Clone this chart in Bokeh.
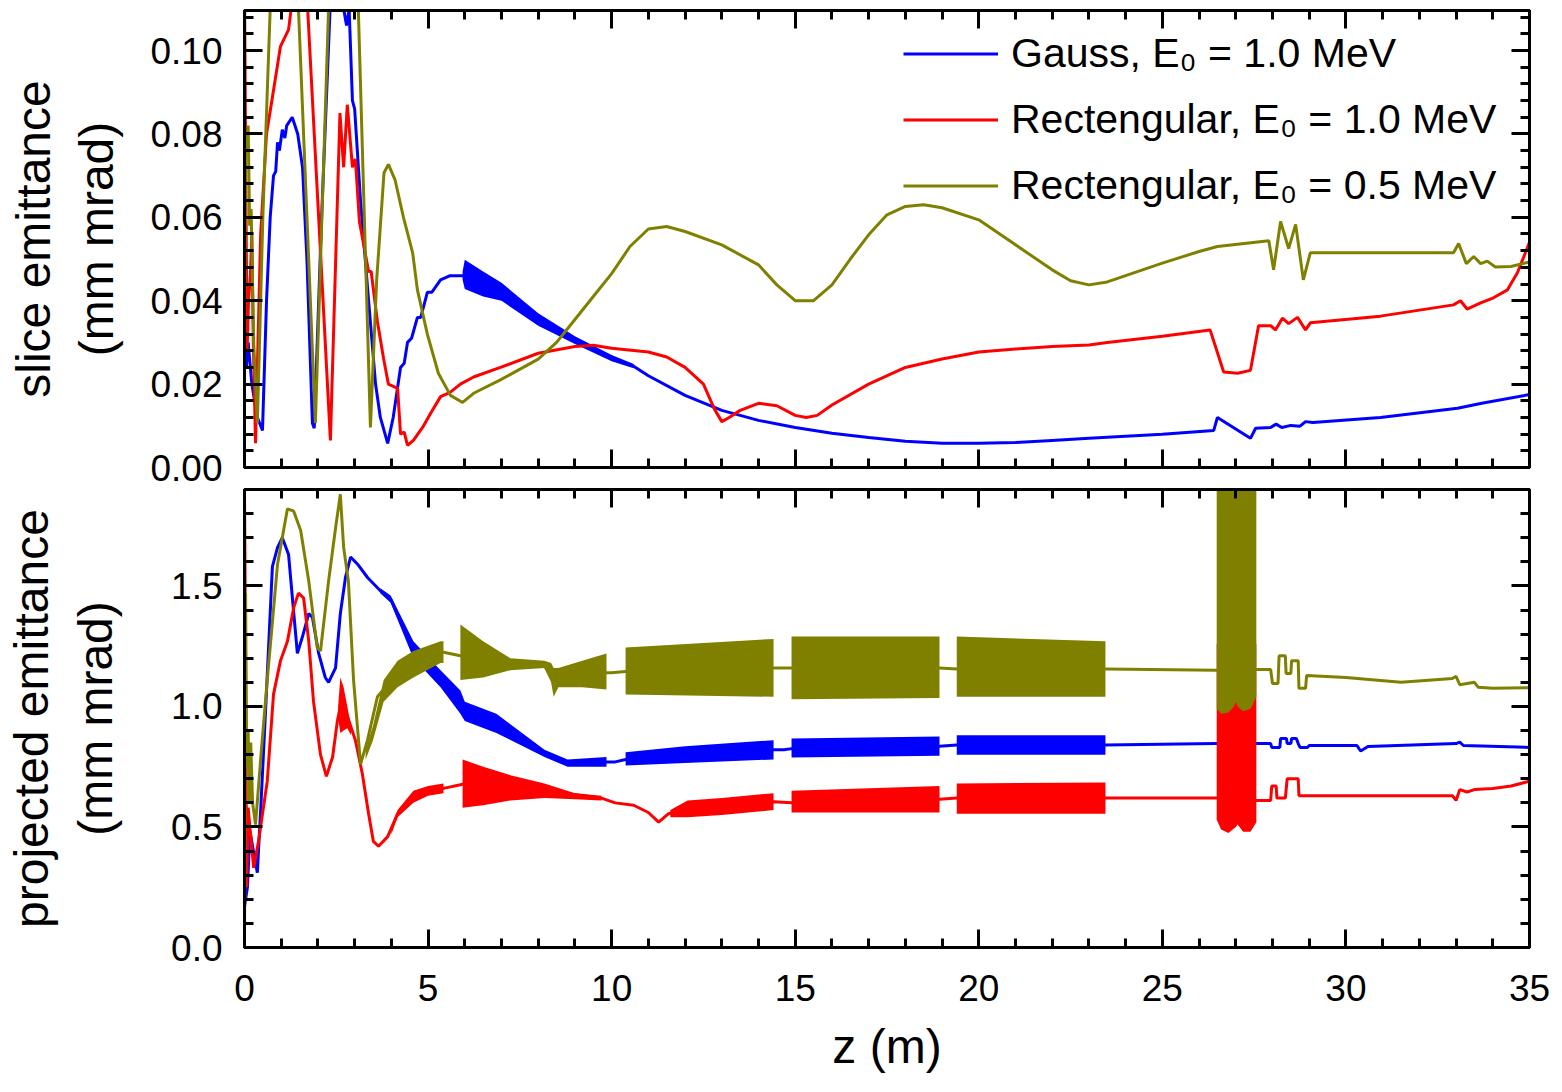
from bokeh.plotting import figure
from bokeh.models import (Range1d, LinearAxis, SingleIntervalTicker, NumeralTickFormatter,
                          Legend, LegendItem)
from bokeh.layouts import column
from bokeh.embed import file_html
from bokeh.resources import INLINE

FONT = "Liberation Sans"
BLUE, RED, OLIVE = "#0000FF", "#FF0000", "#808000"

# ---------------- data: slice emittance (z [m], eps [mm mrad]) ----------------
gauss_slice = [(0.0,0.028),(0.05,0.024),(0.1,0.030),(0.2,0.020),(0.35,0.012),(0.49,0.0089),(0.6,0.040),
    (0.7,0.060),(0.79,0.070),(0.85,0.071),(0.9,0.078),(0.95,0.076),(1.03,0.081),(1.1,0.079),(1.15,0.082),
    (1.3,0.084),(1.45,0.080),(1.58,0.072),(1.7,0.050),(1.85,0.0106),(1.9,0.0094),(2.1,0.060),(2.34,0.112),
    (2.5,0.125),(2.7,0.110),(2.78,0.106),(2.85,0.110),(2.94,0.088),(3.0,0.086),(3.16,0.064),(3.38,0.040),
    (3.57,0.020),(3.7,0.012),(3.9,0.0058),(4.05,0.012),(4.25,0.024),(4.35,0.025),(4.44,0.030),(4.55,0.031),
    (4.71,0.036),(4.8,0.036),(4.98,0.042),(5.1,0.042),(5.34,0.045),(5.6,0.046),(5.94,0.046),(6.0,0.046),
    (7.0,0.042),(8.0,0.0355),(9.0,0.0305),(10.0,0.0262),(10.6,0.0243),(11.0,0.022),(12.0,0.0173),
    (13.0,0.0137),(14.0,0.0113),(15.0,0.0096),(16.0,0.0082),(17.0,0.0072),(18.0,0.0063),(19.0,0.0058),
    (20.0,0.0058),(21.0,0.0060),(22.0,0.0065),(23.0,0.0070),(24.0,0.0075),(25.0,0.0080),(26.4,0.0089),
    (26.5,0.012),(27.4,0.0070),(27.54,0.0094),(27.95,0.0096),(28.1,0.0104),(28.25,0.0096),(28.5,0.0101),
    (28.75,0.0099),(28.9,0.0110),(29.1,0.0108),(30.94,0.0120),(33.04,0.0142),(33.7,0.0154),(35.0,0.0175)]
gauss_slice_band = [(5.94,0.045,0.047),(6.0,0.0428,0.0498),(6.5,0.041,0.047),(7.0,0.0400,0.0443),
    (8.0,0.0340,0.0370),(9.0,0.0296,0.0315),(10.0,0.0255,0.0270),(10.6,0.0238,0.0248)]

rect10_slice = [(0.0,0.115),(0.07,0.028),(0.11,0.040),(0.16,0.046),(0.2,0.056),(0.24,0.030),(0.3,0.0058),
    (0.44,0.056),(0.6,0.080),(0.8,0.091),(0.98,0.101),(1.2,0.105),(1.3,0.112),(1.5,0.125),(1.72,0.110),
    (2.34,0.0065),(2.6,0.085),(2.7,0.072),(2.8,0.087),(2.94,0.072),(3.02,0.074),(3.13,0.059),(3.38,0.047),
    (3.45,0.047),(3.62,0.035),(3.79,0.026),(3.92,0.020),(4.17,0.019),(4.25,0.008),(4.35,0.0085),
    (4.44,0.0053),(4.6,0.0065),(4.85,0.0096),(5.07,0.013),(5.34,0.017),(5.6,0.018),(5.88,0.020),
    (6.24,0.0217),(6.97,0.024),(8.0,0.0274),(9.0,0.029),(9.5,0.0293),(10.0,0.0286),(11.0,0.0277),
    (11.5,0.0265),(12.0,0.024),(12.5,0.020),(12.8,0.014),(13.0,0.011),(13.2,0.012),(13.5,0.0137),
    (14.0,0.0154),(14.5,0.0148),(15.0,0.0125),(15.3,0.012),(15.6,0.0125),(16.0,0.015),(17.0,0.020),
    (18.0,0.024),(19.0,0.026),(20.0,0.0277),(21.0,0.0284),(22.0,0.029),(23.0,0.0294),(23.5,0.030),
    (25.0,0.0315),(26.3,0.033),(26.67,0.0229),(27.05,0.0226),(27.4,0.0233),(27.62,0.034),(27.95,0.034),
    (28.08,0.033),(28.27,0.0358),(28.44,0.0345),(28.68,0.036),(28.9,0.033),(29.03,0.0347),(30.94,0.0363),
    (32.93,0.039),(33.12,0.040),(33.3,0.038),(33.67,0.0395),(34.02,0.0407),(34.4,0.0426),(34.67,0.0467),
    (35.0,0.054)]

rect05_slice = [(0.0,0.030),(0.03,0.080),(0.07,0.076),(0.1,0.082),(0.14,0.058),(0.18,0.062),(0.25,0.030),
    (0.35,0.0106),(0.5,0.060),(0.7,0.110),(1.05,0.135),(1.47,0.110),(1.93,0.0106),(2.29,0.110),(2.7,0.135),
    (3.1,0.110),(3.43,0.0096),(3.6,0.045),(3.8,0.0707),(3.92,0.0727),(4.1,0.069),(4.33,0.060),(4.58,0.0515),
    (4.71,0.0426),(4.98,0.032),(5.28,0.0226),(5.61,0.0173),(5.94,0.0156),(6.24,0.0178),(6.97,0.021),
    (8.0,0.026),(8.5,0.030),(9.0,0.0355),(9.5,0.041),(10.0,0.0465),(10.5,0.053),(11.0,0.0572),(11.5,0.0578),
    (12.0,0.0566),(13.0,0.0534),(14.0,0.0486),(14.5,0.0438),(15.0,0.040),(15.5,0.040),(16.0,0.0438),
    (16.5,0.050),(17.0,0.0558),(17.5,0.0606),(18.0,0.0626),(18.5,0.063),(19.0,0.0623),(20.0,0.0594),
    (21.0,0.0534),(22.0,0.0474),(22.5,0.0448),(23.0,0.0438),(23.5,0.0445),(24.0,0.046),(25.0,0.049),
    (26.0,0.0518),(26.5,0.053),(27.9,0.0544),(28.03,0.0474),(28.22,0.059),(28.44,0.0525),(28.63,0.0583),
    (28.84,0.045),(29.03,0.0515),(32.93,0.0515),(33.07,0.0537),(33.28,0.0489),(33.48,0.0506),(33.67,0.0489),
    (33.85,0.0495),(34.07,0.0481),(34.5,0.0482),(35.0,0.0493)]

# ---------------- data: projected emittance ----------------
gauss_proj = [(0.0,0.17),(0.08,0.25),(0.15,0.48),(0.22,0.42),(0.35,0.31),(0.45,0.60),(0.57,0.97),(0.76,1.58),
    (0.9,1.66),(1.03,1.70),(1.2,1.63),(1.34,1.39),(1.44,1.22),(1.58,1.29),(1.75,1.385),(1.85,1.37),(2.02,1.22),
    (2.2,1.12),(2.29,1.10),(2.48,1.16),(2.61,1.385),(2.75,1.535),(2.89,1.62),(3.08,1.59),(3.35,1.535),
    (3.7,1.48),(3.98,1.445),(4.6,1.235),(5.34,1.115),(5.88,1.02),(6.0,0.98),(6.86,0.93),(7.5,0.87),
    (8.17,0.805),(8.8,0.765),(9.3,0.76),(9.86,0.77),(10.1,0.77),(10.38,0.78),(12.0,0.80),(14.41,0.82),
    (14.7,0.82),(14.9,0.825),(18.93,0.835),(19.4,0.84),(23.45,0.84),(26.48,0.846),(27.95,0.846),(27.98,0.83),
    (28.2,0.83),(28.22,0.867),(28.38,0.867),(28.4,0.846),(28.5,0.846),(28.52,0.867),(28.65,0.867),(28.7,0.846),
    (28.75,0.83),(28.95,0.83),(29.0,0.838),(30.3,0.838),(30.4,0.815),(30.6,0.834),(33.0,0.846),(33.1,0.852),
    (33.2,0.838),(35.0,0.83)]
gauss_proj_bands = [
    [(3.7,1.47,1.49),(3.98,1.43,1.46),(4.6,1.20,1.27),(5.34,1.08,1.15),(5.88,0.97,1.066),(6.0,0.94,1.02),
     (6.86,0.89,0.97),(8.17,0.79,0.82),(8.8,0.75,0.78),(9.86,0.75,0.79)],
    [(10.38,0.755,0.81),(12.0,0.765,0.835),(14.41,0.78,0.86)],
    [(14.9,0.788,0.867),(18.93,0.795,0.875)],
    [(19.4,0.80,0.88),(23.45,0.80,0.88)]]

rect10_proj = [(0.0,1.90),(0.03,1.20),(0.06,0.25),(0.1,0.58),(0.2,0.41),(0.25,0.33),(0.38,0.44),(0.62,0.69),
    (0.79,1.05),(0.98,1.19),(1.17,1.27),(1.34,1.41),(1.47,1.47),(1.61,1.45),(1.75,1.27),(1.88,1.02),
    (2.07,0.80),(2.23,0.71),(2.4,0.79),(2.53,0.94),(2.61,1.0),(2.8,0.96),(3.02,0.86),(3.21,0.72),(3.38,0.555),
    (3.51,0.44),(3.65,0.42),(3.9,0.46),(4.17,0.555),(4.6,0.625),(5.34,0.66),(5.42,0.66),(5.88,0.675),
    (6.0,0.68),(8.17,0.65),(9.72,0.62),(10.1,0.60),(10.6,0.59),(11.0,0.56),(11.28,0.52),(11.55,0.555),
    (12.07,0.575),(14.41,0.605),(14.9,0.60),(18.93,0.615),(19.4,0.62),(23.45,0.62),(26.48,0.62),(27.56,0.61),
    (27.95,0.61),(27.98,0.67),(28.1,0.67),(28.12,0.62),(28.35,0.62),(28.4,0.70),(28.7,0.70),(28.72,0.63),
    (30.0,0.63),(32.9,0.63),(33.0,0.61),(33.1,0.655),(33.3,0.645),(33.5,0.655),(34.0,0.66),(34.5,0.67),
    (35.0,0.69)]
rect10_proj_bands = [
    [(2.55,0.95,1.0),(2.61,0.89,1.12),(2.7,0.90,1.08),(2.8,0.91,1.0),(2.9,0.88,0.92)],
    [(4.0,0.47,0.50),(4.17,0.54,0.57),(4.6,0.60,0.65),(5.0,0.63,0.67),(5.42,0.64,0.68)],
    [(5.94,0.58,0.78),(6.5,0.59,0.75),(7.24,0.61,0.715),(8.17,0.62,0.68),(9.0,0.615,0.64),(9.72,0.61,0.63)],
    [(11.6,0.54,0.57),(12.07,0.54,0.61),(13.0,0.55,0.62),(14.41,0.57,0.64)],
    [(14.9,0.56,0.65),(18.93,0.56,0.67)],
    [(19.4,0.555,0.68),(23.45,0.555,0.685)],
    [(26.48,0.53,1.26),(26.6,0.49,1.26),(26.8,0.475,1.26),(27.0,0.50,1.26),(27.05,0.51,1.26),
     (27.2,0.48,1.26),(27.4,0.48,1.26),(27.56,0.52,1.26)]]

rect05_proj = [(0.0,0.0),(0.03,1.47),(0.06,0.75),(0.1,0.90),(0.13,0.60),(0.17,0.85),(0.22,0.60),(0.3,0.51),
    (0.45,0.80),(0.62,1.11),(0.9,1.59),(1.17,1.82),(1.34,1.81),(1.53,1.73),(1.75,1.52),(1.98,1.245),
    (2.07,1.23),(2.29,1.52),(2.48,1.74),(2.61,1.88),(2.7,1.66),(2.83,1.52),(2.97,1.11),(3.16,0.76),
    (3.35,0.86),(3.62,1.04),(3.79,1.07),(4.17,1.14),(4.6,1.18),(5.34,1.225),(5.42,1.225),(5.88,1.21),
    (6.5,1.2),(7.24,1.175),(8.17,1.17),(8.42,1.10),(8.55,1.12),(9.86,1.14),(10.0,1.14),(10.38,1.145),
    (14.41,1.16),(14.9,1.16),(18.93,1.16),(19.4,1.155),(23.45,1.155),(26.48,1.15),(27.56,1.153),
    (27.95,1.153),(28.0,1.095),(28.15,1.095),(28.18,1.21),(28.35,1.21),(28.37,1.137),(28.5,1.137),
    (28.52,1.19),(28.7,1.19),(28.72,1.075),(28.9,1.075),(28.93,1.128),(30.0,1.12),(31.5,1.10),(32.9,1.116),
    (33.0,1.125),(33.1,1.09),(33.3,1.095),(33.5,1.10),(33.6,1.08),(34.0,1.075),(35.0,1.078)]
rect05_proj_bands = [
    [(3.3,0.78,0.82),(3.5,0.86,0.92),(3.79,1.02,1.11),(4.17,1.08,1.19),(4.6,1.12,1.23),(5.34,1.18,1.27),
     (5.42,1.18,1.27)],
    [(5.88,1.11,1.34),(6.5,1.12,1.27),(7.24,1.15,1.20),(8.17,1.16,1.19),(8.35,1.10,1.18),(8.42,1.04,1.16),
     (8.55,1.08,1.16),(9.2,1.08,1.19),(9.86,1.07,1.22)],
    [(10.38,1.05,1.245),(14.41,1.04,1.28)],
    [(14.9,1.03,1.29),(18.93,1.035,1.29)],
    [(19.4,1.04,1.29),(23.45,1.04,1.27)],
    [(26.48,0.99,2.0),(26.6,0.97,2.0),(26.8,0.975,2.0),(26.95,1.0,2.0),(27.0,1.02,2.0),(27.05,1.0,2.0),
     (27.2,0.98,2.0),(27.4,0.99,2.0),(27.56,1.04,2.0)]]

legend_labels = ["Gauss, E\u2080 = 1.0 MeV", "Rectengular, E\u2080 = 1.0 MeV", "Rectengular, E\u2080 = 0.5 MeV"]
x_ticks_interval = 5

# ---------------- figure helpers ----------------
xr = Range1d(0, 35)


def style_axis(ax, show_labels, interval, fmt=None, label=None, label_standoff=10, tick_standoff=20):
    ax.ticker = SingleIntervalTicker(interval=interval, num_minor_ticks=5)
    ax.axis_line_width = 3
    ax.axis_line_color = "black"
    ax.major_tick_in = 18
    ax.major_tick_out = 0
    ax.minor_tick_in = 9
    ax.minor_tick_out = 0
    ax.major_tick_line_width = 3
    ax.minor_tick_line_width = 3
    ax.major_tick_line_color = "black"
    ax.minor_tick_line_color = "black"
    if show_labels:
        if fmt:
            ax.formatter = NumeralTickFormatter(format=fmt)
        ax.major_label_text_font = FONT
        ax.major_label_text_font_size = "37px"
        ax.major_label_text_color = "black"
        ax.major_label_standoff = tick_standoff
    else:
        ax.major_label_text_font_size = "1px"
        ax.major_label_text_color = None
        ax.major_label_standoff = 0
    if label:
        ax.axis_label = label
        ax.axis_label_text_font = FONT
        ax.axis_label_text_font_size = "48px"
        ax.axis_label_text_font_style = "normal"
        ax.axis_label_text_color = "black"
        ax.axis_label_standoff = label_standoff


def make_fig(frame_h, ymax, yint, yfmt, ylabel, top_b, bottom_b, show_x, ylab_standoff):
    p = figure(frame_width=1285, frame_height=frame_h, x_range=xr, y_range=Range1d(0, ymax),
               output_backend="svg", toolbar_location=None,
               min_border_left=244, min_border_right=24, min_border_top=top_b, min_border_bottom=bottom_b)
    p.grid.visible = False
    p.outline_line_color = "black"
    p.outline_line_width = 3
    p.background_fill_color = "white"
    p.border_fill_color = "white"
    style_axis(p.xaxis[0], show_x, x_ticks_interval, "0",
               "z (m)" if show_x else None, label_standoff=16, tick_standoff=27)
    style_axis(p.yaxis[0], True, yint, yfmt, ylabel, label_standoff=ylab_standoff, tick_standoff=22)
    top = LinearAxis()
    style_axis(top, False, x_ticks_interval)
    p.add_layout(top, "above")
    right = LinearAxis()
    style_axis(right, False, yint)
    p.add_layout(right, "right")
    return p


def draw(p, pts, color, bands=()):
    z, e = zip(*pts)
    r = p.line(list(z), list(e), line_color=color, line_width=3)
    for seg in bands:
        bz, lo, hi = zip(*seg)
        p.varea(x=list(bz), y1=list(lo), y2=list(hi), fill_color=color)
    return r


p1 = make_fig(457, 0.1096, 0.02, "0.00", "slice emittance\n(mm mrad)", 10, 20, False, 24)
rb = draw(p1, gauss_slice, BLUE, [gauss_slice_band])
rr = draw(p1, rect10_slice, RED)
ro = draw(p1, rect05_slice, OLIVE)

legend = Legend(items=[LegendItem(label=legend_labels[0], renderers=[rb]),
                       LegendItem(label=legend_labels[1], renderers=[rr]),
                       LegendItem(label=legend_labels[2], renderers=[ro])],
                location=(659, 258), orientation="vertical")
legend.label_text_font = FONT
legend.label_text_font_size = "41px"
legend.label_text_color = "black"
legend.glyph_width = 95
legend.glyph_height = 47
legend.label_height = 47
legend.spacing = 19
legend.label_standoff = 13
legend.padding = 0
legend.margin = 0
legend.border_line_color = None
legend.background_fill_alpha = 0
p1.add_layout(legend)

p2 = make_fig(458, 1.9, 0.5, "0.0", "projected emittance\n(mm mrad)", 2, 140, True, 46)
draw(p2, gauss_proj, BLUE, gauss_proj_bands)
draw(p2, rect10_proj, RED, rect10_proj_bands)
draw(p2, rect05_proj, OLIVE, rect05_proj_bands)

layout = column(p1, p2, spacing=0)
open("out.html", "w").write(file_html(layout, INLINE))
